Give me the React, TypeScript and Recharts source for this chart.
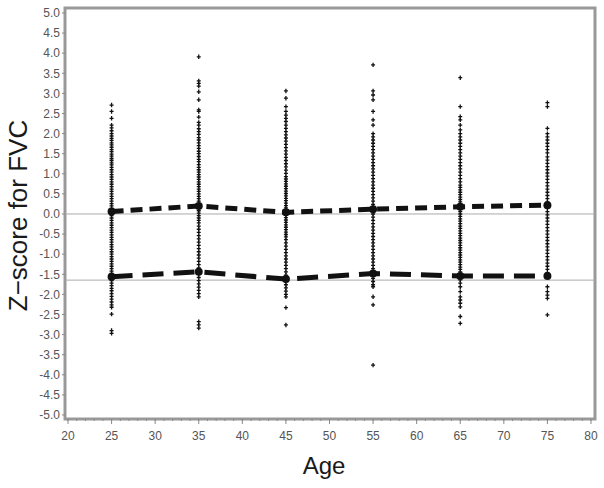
import { ComposedChart, Scatter, Line, XAxis, YAxis, ReferenceLine, ReferenceArea } from "recharts";

// age groups and the two summary curves
const ages = [25, 35, 45, 55, 65, 75];
const meanZ = [0.06, 0.2, 0.04, 0.12, 0.18, 0.22];
const llnZ = [-1.56, -1.44, -1.62, -1.48, -1.54, -1.54];

// individual z-scores per age group
const z25 = [
  2.71, 2.55, 2.38, 2.21, 2.14, 2.07, 2.0, 1.94, 1.88, 1.83, 1.77, 1.72, 1.66, 1.6, 1.55, 1.49, 1.44, 1.38, 1.33, 1.27,
  1.22, 1.16, 1.1, 1.04, 0.98, 0.92, 0.86, 0.8, 0.74, 0.68, 0.62, 0.56, 0.5, 0.44, 0.38, 0.32, 0.26, 0.2, 0.14, 0.08,
  0.02, -0.04, -0.1, -0.16, -0.22, -0.28, -0.34, -0.4, -0.46, -0.52, -0.58, -0.64, -0.7, -0.76, -0.82, -0.88, -0.94,
  -1.0, -1.06, -1.12, -1.18, -1.24, -1.3, -1.36, -1.42, -1.48, -1.54, -1.6, -1.66, -1.72, -1.78, -1.85, -1.91, -1.98,
  -2.05, -2.12, -2.19, -2.26, -2.32, -2.49, -2.9, -2.97,
];
const z35 = [
  3.91, 3.31, 3.25, 3.18, 3.04, 2.84, 2.59, 2.55, 2.41, 2.28, 2.21, 2.12, 2.05, 1.98, 1.9, 1.84, 1.77, 1.7, 1.63, 1.56,
  1.5, 1.43, 1.36, 1.3, 1.23, 1.16, 1.1, 1.04, 0.98, 0.92, 0.86, 0.8, 0.74, 0.68, 0.62, 0.56, 0.5, 0.44, 0.38, 0.32,
  0.26, 0.2, 0.14, 0.08, 0.02, -0.04, -0.1, -0.16, -0.22, -0.3, -0.38, -0.46, -0.54, -0.62, -0.7, -0.78, -0.86, -0.94,
  -1.02, -1.1, -1.18, -1.26, -1.34, -1.42, -1.5, -1.58, -1.66, -1.74, -1.82, -1.9, -1.98, -2.06, -2.68, -2.76, -2.84,
];
const z45 = [
  3.06, 2.88, 2.67, 2.55, 2.46, 2.38, 2.3, 2.21, 2.13, 2.05, 1.97, 1.89, 1.81, 1.73, 1.65, 1.57, 1.49, 1.41, 1.33, 1.25,
  1.17, 1.09, 1.01, 0.93, 0.87, 0.81, 0.75, 0.69, 0.63, 0.57, 0.51, 0.45, 0.39, 0.33, 0.27, 0.21, 0.15, 0.09, 0.03,
  -0.03, -0.09, -0.15, -0.21, -0.27, -0.33, -0.39, -0.45, -0.51, -0.57, -0.64, -0.72, -0.8, -0.88, -0.96, -1.04, -1.12,
  -1.2, -1.28, -1.36, -1.44, -1.52, -1.6, -1.68, -1.76, -1.84, -1.92, -2.0, -2.06, -2.33, -2.76,
];
const z55 = [
  3.71, 3.06, 2.96, 2.84, 2.55, 2.34, 2.21, 2.0, 1.92, 1.84, 1.76, 1.68, 1.6, 1.52, 1.44, 1.36, 1.28, 1.2, 1.12, 1.04,
  0.96, 0.88, 0.8, 0.72, 0.64, 0.56, 0.48, 0.4, 0.32, 0.24, 0.16, 0.08, 0.0, -0.08, -0.16, -0.24, -0.32, -0.4, -0.48,
  -0.56, -0.64, -0.72, -0.8, -0.88, -0.96, -1.04, -1.12, -1.2, -1.28, -1.36, -1.44, -1.52, -1.6, -1.68, -1.76, -1.81,
  -2.06, -2.26, -3.76,
];
const z65 = [
  3.39, 2.67, 2.42, 2.34, 2.21, 2.09, 2.0, 1.92, 1.84, 1.76, 1.68, 1.6, 1.52, 1.44, 1.36, 1.28, 1.2, 1.12, 1.04, 0.96,
  0.88, 0.8, 0.72, 0.66, 0.6, 0.54, 0.48, 0.42, 0.36, 0.3, 0.24, 0.18, 0.12, 0.06, 0.0, -0.06, -0.12, -0.18, -0.24,
  -0.3, -0.36, -0.42, -0.48, -0.54, -0.6, -0.66, -0.72, -0.78, -0.84, -0.9, -0.96, -1.02, -1.08, -1.14, -1.2, -1.26,
  -1.32, -1.38, -1.44, -1.5, -1.56, -1.64, -1.72, -1.81, -1.93, -2.06, -2.14, -2.22, -2.31, -2.55, -2.72,
];
const z75 = [
  2.77, 2.67, 2.13, 2.0, 1.92, 1.84, 1.76, 1.68, 1.6, 1.52, 1.42, 1.34, 1.26, 1.18, 1.1, 1.02, 0.94, 0.86, 0.78, 0.7,
  0.62, 0.54, 0.46, 0.38, 0.3, 0.22, 0.14, 0.06, -0.02, -0.1, -0.18, -0.26, -0.34, -0.42, -0.5, -0.58, -0.66, -0.74,
  -0.82, -0.9, -0.98, -1.06, -1.14, -1.22, -1.3, -1.38, -1.46, -1.56, -1.81, -1.93, -2.02, -2.1, -2.51,
];
const zByAge = [z25, z35, z45, z55, z65, z75];

const yTicks = [-5, -4.5, -4, -3.5, -3, -2.5, -2, -1.5, -1, -0.5, 0, 0.5, 1, 1.5, 2, 2.5, 3, 3.5, 4, 4.5, 5];
const xMajor = [20, 25, 30, 35, 40, 45, 50, 55, 60, 65, 70, 75, 80];
const xMinor: number[] = [];
for (let a = 20; a <= 80; a++) xMinor.push(a);

const lln = -1.645;
const X_DOMAIN: [number, number] = [19.656, 80.459];
const Y_DOMAIN: [number, number] = [-5.1, 5.124];

const scatterData = ages.flatMap((age, i) => zByAge[i].map((z) => ({ age, z })));
const lineData = ages.map((age, i) => ({ age, mean: meanZ[i], lln: llnZ[i] }));

const FONT = "'Liberation Sans', Arial, sans-serif";

function PlusMark(props: any) {
  const { cx, cy } = props;
  if (cx == null || cy == null) return null;
  return (
    <path
      d={`M${cx - 2},${cy}h4M${cx},${cy - 2.2}v4.4`}
      stroke="#111"
      strokeWidth={1.3}
      fill="none"
    />
  );
}

function AgeTick(props: any) {
  const { x, y, payload } = props;
  const v = payload.value;
  if (!xMajor.includes(v)) return null;
  const axisY = y - 12; // tickSize 2 + tickMargin 10
  return (
    <g>
      <line x1={x} x2={x} y1={axisY} y2={axisY + 5} stroke="#888" />
      <text x={x} y={y} dy="0.71em" textAnchor="middle" fill="#555" fontSize={12} fontFamily={FONT}>
        {v}
      </text>
    </g>
  );
}

function Dot(props: any) {
  const { cx, cy } = props;
  if (cx == null || cy == null) return null;
  return <circle cx={cx} cy={cy} r={4} fill="#111" />;
}

export default function App() {
  return (
    <div style={{ position: "fixed", top: 0, left: 0, background: "#fff", width: 604, height: 488 }}>
      <ComposedChart width={604} height={488} margin={{ top: 8, right: 9, left: 0, bottom: 0 }}>
        <XAxis
          dataKey="age"
          type="number"
          domain={X_DOMAIN}
          ticks={xMinor}
          interval={0}
          allowDataOverflow
          axisLine={false}
          tickLine={{ stroke: "#888" }}
          tickSize={2}
          tickMargin={10}
          tick={<AgeTick />}
          height={69}
          label={({ viewBox }: any) => (
            <text
              x={viewBox.x + viewBox.width / 2 - 6}
              y={viewBox.y + 55}
              textAnchor="middle"
              fontSize={24}
              fill="#1a1a1a"
              fontFamily={FONT}
            >
              Age
            </text>
          )}
        />
        <YAxis
          type="number"
          domain={Y_DOMAIN}
          ticks={yTicks}
          interval={0}
          allowDataOverflow
          width={65}
          axisLine={false}
          tickLine={{ stroke: "#888" }}
          tickSize={3}
          tickMargin={2}
          tickFormatter={(v: number) => v.toFixed(1)}
          tick={{ fill: "#555", fontSize: 12, fontFamily: FONT }}
          label={({ viewBox }: any) => {
            const cy = viewBox.y + viewBox.height / 2 + 2;
            return (
              <text
                x={27}
                y={cy}
                transform={`rotate(-90, 27, ${cy})`}
                textAnchor="middle"
                fontSize={26}
                fill="#1a1a1a"
                fontFamily={FONT}
              >
                Z−score for FVC
              </text>
            );
          }}
        />
        <ReferenceArea
          x1={X_DOMAIN[0]}
          x2={X_DOMAIN[1]}
          y1={Y_DOMAIN[0]}
          y2={Y_DOMAIN[1]}
          fill="none"
          stroke="#999"
          strokeWidth={3}
          ifOverflow="visible"
        />
        <ReferenceLine y={0} stroke="#aaa" strokeWidth={1} />
        <ReferenceLine y={lln} stroke="#aaa" strokeWidth={1} />
        <Scatter data={scatterData} dataKey="z" shape={<PlusMark />} isAnimationActive={false} />
        <Line
          data={lineData}
          dataKey="mean"
          stroke="#111"
          strokeWidth={5}
          strokeDasharray="12 7"
          dot={<Dot />}
          activeDot={false}
          isAnimationActive={false}
        />
        <Line
          data={lineData}
          dataKey="lln"
          stroke="#111"
          strokeWidth={5}
          strokeDasharray="21 10"
          dot={<Dot />}
          activeDot={false}
          isAnimationActive={false}
        />
      </ComposedChart>
    </div>
  );
}
